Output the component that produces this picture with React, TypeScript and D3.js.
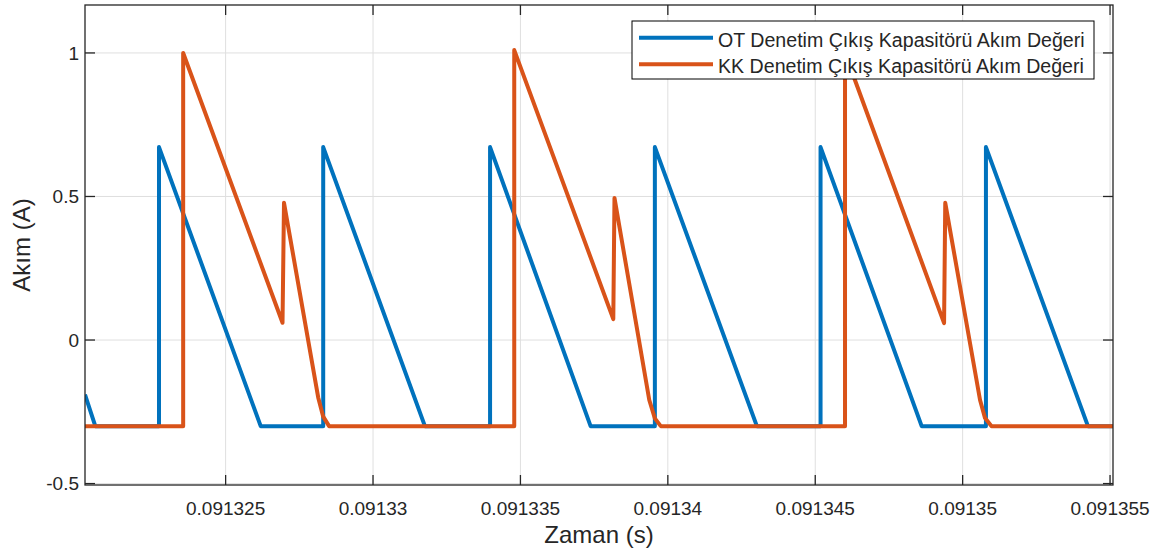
import React from 'react';
import * as d3 from 'd3';

// OT (blue) polyline: time (s) and current (A)
const otTime = [
  0.09132023, 0.09132058,
  0.09132274, 0.09132274, 0.09132619,
  0.09132831, 0.09132831, 0.09133176,
  0.09133397, 0.09133397, 0.09133738,
  0.09133956, 0.09133956, 0.09134302,
  0.09134518, 0.09134518, 0.09134861,
  0.09135079, 0.09135079, 0.09135425,
  0.0913551,
];
const otValue = [
  -0.19, -0.3,
  -0.3, 0.672, -0.3,
  -0.3, 0.672, -0.3,
  -0.3, 0.672, -0.3,
  -0.3, 0.672, -0.3,
  -0.3, 0.672, -0.3,
  -0.3, 0.672, -0.3,
  -0.3,
];

// KK (orange) polyline
const kkTime = [
  0.09132023,
  0.09132356, 0.09132356, 0.09132693, 0.09132698, 0.09132814, 0.09132831, 0.09132851,
  0.09133479, 0.09133479, 0.09133815, 0.09133819, 0.09133937, 0.09133956, 0.09133976,
  0.09134601, 0.09134601, 0.09134937, 0.09134941, 0.09135059, 0.09135076, 0.09135098,
  0.0913551,
];
const kkValue = [
  -0.3,
  -0.3, 1.0, 0.06, 0.478, -0.2, -0.267, -0.3,
  -0.3, 1.01, 0.073, 0.495, -0.209, -0.273, -0.3,
  -0.3, 1.0, 0.059, 0.478, -0.209, -0.272, -0.3,
  -0.3,
];

const xTicks = [0.091325, 0.09133, 0.091335, 0.09134, 0.091345, 0.09135, 0.091355];
const xTickLabels = ['0.091325', '0.09133', '0.091335', '0.09134', '0.091345', '0.09135', '0.091355'];
const yTicks = [-0.5, 0, 0.5, 1];
const yTickLabels = ['-0.5', '0', '0.5', '1'];

const seriesNames = [
  'OT Denetim Çıkış Kapasitörü Akım Değeri',
  'KK Denetim Çıkış Kapasitörü Akım Değeri',
];
const seriesColors = ['#0072BD', '#D95319'];

const W = 1159;
const H = 554;
const left = 85, right = 1113, top = 5, bottom = 485;
const font = '"Liberation Sans", Arial, Helvetica, sans-serif';
const ink = '#262626';

export default function App() {
  const x = d3.scaleLinear().domain([0.09132023, 0.0913551]).range([left, right]);
  const y = d3.scaleLinear().domain([-0.505, 1.167]).range([bottom, top]);

  const line = d3.line<[number, number]>()
    .x(d => x(d[0]))
    .y(d => y(d[1]));

  const otPts = otTime.map((t, i) => [t, otValue[i]] as [number, number]);
  const kkPts = kkTime.map((t, i) => [t, kkValue[i]] as [number, number]);
  const tick = 10;

  return (
    <svg width={W} height={H} style={{ position: 'absolute', left: 0, top: 0, background: '#fff' }}
      fontFamily={font}>
      <defs>
        <clipPath id="plot">
          <rect x={left} y={top} width={right - left} height={bottom - top} />
        </clipPath>
      </defs>
      <rect x={0} y={0} width={W} height={H} fill="#fff" />

      {/* grid */}
      <g stroke="#dfdfdf" strokeWidth={1}>
        {xTicks.map((t, i) => (
          <line key={'gx' + i} x1={x(t)} x2={x(t)} y1={top} y2={bottom} />
        ))}
        {yTicks.map((v, i) => (
          <line key={'gy' + i} x1={left} x2={right} y1={y(v)} y2={y(v)} />
        ))}
      </g>

      {/* data */}
      <g clipPath="url(#plot)" fill="none" strokeWidth={4} strokeLinejoin="round">
        <path d={line(otPts) || ''} stroke={seriesColors[0]} />
        <path d={line(kkPts) || ''} stroke={seriesColors[1]} />
      </g>

      {/* axes box and ticks */}
      <g stroke={ink} strokeWidth={1.3} fill="none">
        <rect x={left} y={top} width={right - left} height={bottom - top} />
        {xTicks.map((t, i) => (
          <g key={'tx' + i}>
            <line x1={x(t)} x2={x(t)} y1={bottom} y2={bottom - tick} />
            <line x1={x(t)} x2={x(t)} y1={top} y2={top + tick} />
          </g>
        ))}
        {yTicks.map((v, i) => (
          <g key={'ty' + i}>
            <line x1={left} x2={left + tick} y1={y(v)} y2={y(v)} />
            <line x1={right} x2={right - tick} y1={y(v)} y2={y(v)} />
          </g>
        ))}
      </g>

      {/* tick labels */}
      <g fill={ink} fontSize={19}>
        {xTicks.map((t, i) => (
          <text key={'lx' + i} x={x(t)} y={515} textAnchor="middle">{xTickLabels[i]}</text>
        ))}
        {yTicks.map((v, i) => (
          <text key={'ly' + i} x={79} y={y(v) + 6.8} textAnchor="end">{yTickLabels[i]}</text>
        ))}
      </g>

      {/* axis labels */}
      <text x={(left + right) / 2} y={543} textAnchor="middle" fontSize={24} fill={ink}>Zaman (s)</text>
      <text transform={`translate(30,${(top + bottom) / 2}) rotate(-90)`} textAnchor="middle"
        fontSize={24} fill={ink}>Akım (A)</text>

      {/* legend */}
      <g>
        <rect x={632} y={21} width={462} height={58} fill="#fff" stroke="#000" strokeWidth={1} />
        {seriesNames.map((name, i) => (
          <g key={'lg' + i}>
            <line x1={639} x2={713} y1={37.7 + i * 26.5} y2={37.7 + i * 26.5}
              stroke={seriesColors[i]} strokeWidth={4} />
            <text x={718} y={46.5 + i * 26.5} fontSize={19.6} fill={ink}>{name}</text>
          </g>
        ))}
      </g>
    </svg>
  );
}
